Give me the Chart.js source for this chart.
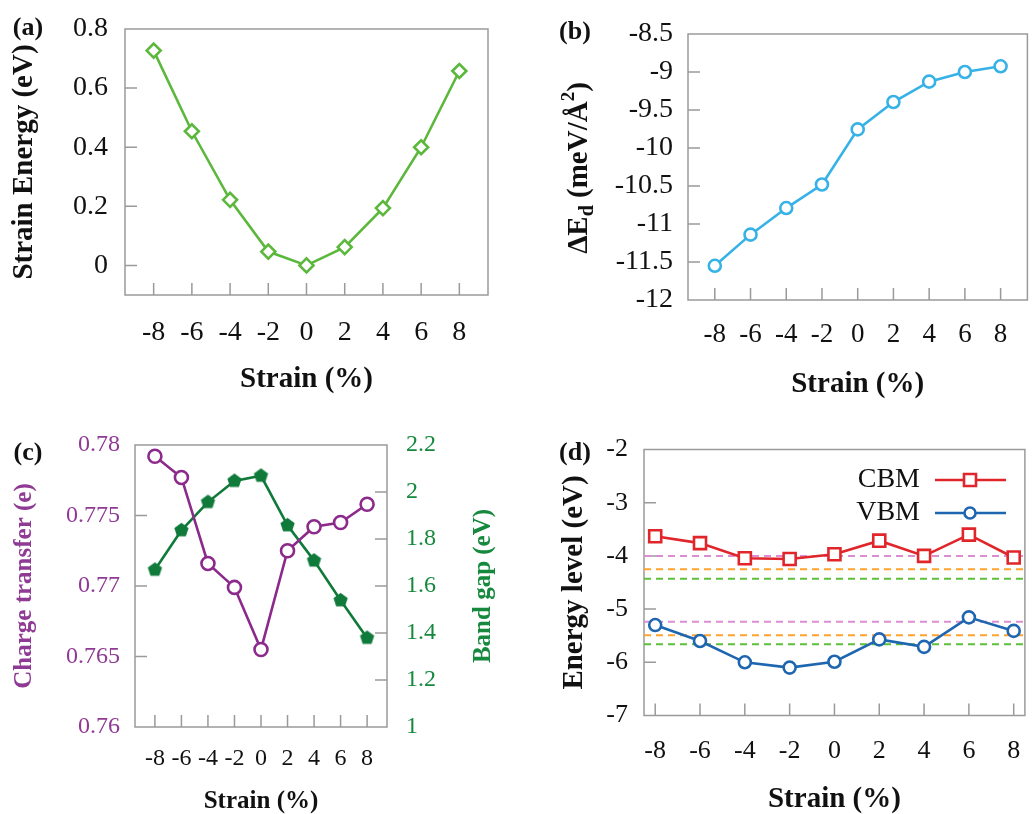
<!DOCTYPE html>
<html>
<head>
<meta charset="utf-8">
<title>Strain panels</title>
<script src="https://cdn.jsdelivr.net/npm/chart.js"></script>
<style>
  html, body { margin: 0; padding: 0; background: #fff; }
  #wrap { position: relative; width: 1036px; height: 814px; overflow: hidden; }
  #wrap canvas { position: absolute; left: 0; top: 0; }
</style>
</head>
<body>
<div id="wrap">
  <canvas id="chartA" width="1036" height="814"></canvas>
  <canvas id="chartB" width="1036" height="814"></canvas>
  <canvas id="chartC" width="1036" height="814"></canvas>
  <canvas id="chartD" width="1036" height="814"></canvas>
</div>
<script>
// ---- data ----
const strain = [-8, -6, -4, -2, 0, 2, 4, 6, 8];

const strainEnergy = [0.727, 0.454, 0.222, 0.047, 0.0, 0.062, 0.194, 0.400, 0.658];
const deltaEd = [-11.55, -11.14, -10.79, -10.48, -9.755, -9.395, -9.127, -9.0, -8.925];
const chargeTransfer = [0.7792, 0.7777, 0.7716, 0.7699, 0.7655, 0.7725, 0.7742, 0.7745, 0.7758];
const bandGap = [1.669, 1.837, 1.957, 2.047, 2.069, 1.858, 1.708, 1.539, 1.379];
const cbm = [-3.63, -3.76, -4.045, -4.058, -3.97, -3.714, -4.0, -3.60, -4.03];
const vbm = [-5.30, -5.60, -6.0, -6.10, -5.99, -5.57, -5.71, -5.155, -5.41];

// dashed reference levels in (d): [upper, lower] for each colour
const refPink = [-4.0, -5.24];
const refOrange = [-4.25, -5.49];
const refGreen = [-4.43, -5.66];

// axis ranges and tick labels
const xRangeWide = [-9.5, 9.5];
const xRangeD = [-8.5, 8.5];
const ticksA = [0, 0.2, 0.4, 0.6, 0.8];
const ticksB = [-12, -11.5, -11, -10.5, -10, -9.5, -9, -8.5];
const ticksCLeft = [0.76, 0.765, 0.77, 0.775, 0.78];
const ticksCRight = [1, 1.2, 1.4, 1.6, 1.8, 2, 2.2];
const ticksD = [-7, -6, -5, -4, -3, -2];

// ---- styling ----
const SERIF = "'Liberation Serif', 'Times New Roman', serif";
const FRAME = '#9a9a9a';
const INK = '#111';
const GREEN_A = '#5cb83c';
const BLUE_B = '#36b2e6';
const PURPLE = '#8c2a8c';
const PURPLE_TXT = '#8f3a94';
const GREEN_C = '#0f7a3a';
const GREEN_TXT = '#17893f';
const RED_D = '#e0262b';
const BLUE_D = '#1f66b0';

const fmt = v => String(+(+v).toFixed(4));
const pts = (ys) => strain.map((x, i) => ({ x: x, y: ys[i] }));

function fixedSize(key, size) {
  return s => {
    s[key] = size;
    s.paddingTop = 0; s.paddingBottom = 0; s.paddingLeft = 0; s.paddingRight = 0;
  };
}
function useTicks(values) {
  return s => { s.ticks = values.map(v => ({ value: v })); };
}

function xAxis(range, o) {
  return {
    type: 'linear', position: 'bottom', min: range[0], max: range[1], bounds: 'data',
    afterBuildTicks: useTicks(strain),
    afterFit: fixedSize('height', o.height),
    grid: { display: false, drawTicks: false }, border: { display: false },
    ticks: { padding: o.pad, color: INK, autoSkip: false, maxRotation: 0, callback: fmt,
      font: { family: SERIF, size: o.size, lineHeight: 1 } },
    title: { display: true, text: 'Strain (%)', color: INK, padding: 0,
      font: { family: SERIF, size: o.tsize, weight: 'bold', lineHeight: 1 } }
  };
}

function yAxis(min, max, tickVals, o) {
  return {
    type: 'linear', position: o.position || 'left', min: min, max: max, bounds: 'data',
    afterBuildTicks: useTicks(tickVals),
    afterFit: fixedSize('width', o.width),
    grid: { display: false, drawTicks: false }, border: { display: false },
    ticks: { padding: o.pad, color: o.color || INK, autoSkip: false, callback: fmt,
      font: { family: SERIF, size: o.size, lineHeight: 1 } },
    title: o.title ? { display: true, text: o.title, color: o.color || INK, padding: 0,
      font: { family: SERIF, size: o.tsize, weight: 'bold', lineHeight: 1 } } : { display: false }
  };
}

function drawRich(ctx, t) {
  ctx.save();
  ctx.translate(t.x, t.y);
  ctx.rotate(t.rot || 0);
  ctx.fillStyle = t.color || INK;
  ctx.textAlign = 'left';
  ctx.textBaseline = 'alphabetic';
  let total = 0;
  const widths = t.parts.map(p => {
    ctx.font = `bold ${p.size}px ${SERIF}`;
    const w = ctx.measureText(p.t).width;
    total += w;
    return w;
  });
  let cx = -total / 2;
  const base = t.parts[0].size * 0.33;
  t.parts.forEach((p, i) => {
    ctx.font = `bold ${p.size}px ${SERIF}`;
    ctx.fillText(p.t, cx, base + (p.dy || 0));
    cx += widths[i];
  });
  ctx.restore();
}

function drawMarker(ctx, kind, x, y, r, color) {
  ctx.beginPath();
  if (kind === 'rect') ctx.rect(x - r, y - r, 2 * r, 2 * r);
  else ctx.arc(x, y, r, 0, Math.PI * 2);
  ctx.fillStyle = '#fff';
  ctx.fill();
  ctx.strokeStyle = color;
  ctx.stroke();
}

// frame, inward tick marks, panel letter, extra titles, legend
function makeExtras(cfg) {
  return {
    id: 'extras',
    beforeDatasetsDraw(chart) {
      const { ctx, chartArea: a } = chart;
      ctx.save();
      ctx.strokeStyle = FRAME;
      ctx.lineWidth = 1.5;
      ctx.strokeRect(a.left, a.top, a.right - a.left, a.bottom - a.top);
      ctx.beginPath();
      Object.values(chart.scales).forEach(s => {
        s.ticks.forEach(t => {
          const p = s.getPixelForValue(t.value);
          if (s.isHorizontal()) {
            if (p <= a.left + 1 || p >= a.right - 1) return;
            ctx.moveTo(p, a.bottom);
            ctx.lineTo(p, a.bottom - 12);
          } else {
            if (p <= a.top + 1 || p >= a.bottom - 1) return;
            const right = s.position === 'right';
            const x0 = right ? a.right : a.left;
            ctx.moveTo(x0, p);
            ctx.lineTo(x0 + (right ? -12 : 12), p);
          }
        });
      });
      ctx.stroke();
      ctx.restore();
    },
    afterDraw(chart) {
      const ctx = chart.ctx;
      ctx.save();
      if (cfg.letter) {
        ctx.font = `bold 26px ${SERIF}`;
        ctx.fillStyle = INK;
        ctx.textAlign = 'center';
        ctx.textBaseline = 'middle';
        ctx.fillText(cfg.letter.text, cfg.letter.x, cfg.letter.y);
      }
      (cfg.titles || []).forEach(t => drawRich(ctx, t));
      (cfg.legend || []).forEach(l => {
        ctx.font = `28px ${SERIF}`;
        ctx.fillStyle = INK;
        ctx.textAlign = 'right';
        ctx.textBaseline = 'middle';
        ctx.fillText(l.text, 920, l.y);
        ctx.strokeStyle = l.color;
        ctx.lineWidth = 2.6;
        ctx.beginPath();
        ctx.moveTo(935, l.y);
        ctx.lineTo(1006, l.y);
        ctx.stroke();
        drawMarker(ctx, l.marker, 970, l.y, l.marker === 'rect' ? 6 : 5.5, l.color);
      });
      ctx.restore();
    }
  };
}

function baseOptions(padding, scales) {
  return {
    responsive: false,
    animation: false,
    devicePixelRatio: 1,
    layout: { padding: padding },
    plugins: { legend: { display: false }, tooltip: { enabled: false } },
    elements: { line: { tension: 0 } },
    scales: scales
  };
}

function lineSet(ys, color, style, radius, extra) {
  return Object.assign({
    data: pts(ys),
    borderColor: color,
    borderWidth: 2.6,
    pointStyle: style,
    pointRadius: radius,
    pointBorderWidth: 2.6,
    pointBorderColor: color,
    pointBackgroundColor: '#fff',
    tension: 0
  }, extra || {});
}

function pentagon(color, r) {
  const s = Math.ceil(2 * r + 2);
  const c = document.createElement('canvas');
  c.width = s; c.height = s;
  const g = c.getContext('2d');
  g.fillStyle = color;
  g.beginPath();
  for (let i = 0; i < 5; i++) {
    const ang = -Math.PI / 2 + i * 2 * Math.PI / 5;
    g.lineTo(s / 2 + r * Math.cos(ang), s / 2 + r * Math.sin(ang));
  }
  g.closePath();
  g.fill();
  return c;
}

// ---- (a) strain energy ----
new Chart(document.getElementById('chartA'), {
  type: 'line',
  data: { datasets: [lineSet(strainEnergy, GREEN_A, 'rectRot', 7)] },
  options: baseOptions({ left: 10.5, top: 29, right: 548, bottom: 419.5 }, {
    x: xAxis(xRangeWide, { height: 99.5, pad: 24, size: 28, tsize: 29 }),
    y: yAxis(-0.1, 0.8, ticksA, { width: 114.5, pad: 17, size: 28, title: 'Strain Energy (eV)', tsize: 29 })
  }),
  plugins: [makeExtras({ letter: { text: '(a)', x: 28, y: 28 } })]
});

// ---- (b) delta E_d ----
new Chart(document.getElementById('chartB'), {
  type: 'line',
  data: { datasets: [lineSet(deltaEd, BLUE_B, 'circle', 6)] },
  options: baseOptions({ left: 540, top: 34, right: 0, bottom: 414.5 }, {
    x: xAxis(xRangeWide, { height: 99.5, pad: 21.5, size: 27, tsize: 29 }),
    y: yAxis(-12, -8.5, ticksB, { width: 148, pad: 15, size: 28 })
  }),
  plugins: [makeExtras({
    letter: { text: '(b)', x: 575, y: 32 },
    titles: [{ x: 577, y: 168, rot: -Math.PI / 2, parts: [
      { t: '\u0394E', size: 29 }, { t: 'd', size: 20, dy: 6 },
      { t: ' (meV/\u00C5', size: 29 }, { t: '2', size: 19, dy: -13 }, { t: ')', size: 29 }
    ] }]
  })]
});

// ---- (c) charge transfer and band gap ----
new Chart(document.getElementById('chartC'), {
  type: 'line',
  data: { datasets: [
    lineSet(chargeTransfer, PURPLE, 'circle', 6.5, { yAxisID: 'y' }),
    lineSet(bandGap, GREEN_C, pentagon(GREEN_C, 7.5), 7.5, { yAxisID: 'y2' })
  ] },
  options: baseOptions({ left: 12.5, top: 445, right: 529, bottom: 0 }, {
    x: xAxis(xRangeWide, { height: 87, pad: 20, size: 24, tsize: 25 }),
    y: yAxis(0.76, 0.78, ticksCLeft, { width: 122.5, pad: 15, size: 24, color: PURPLE_TXT,
      title: 'Charge transfer (e)', tsize: 25 }),
    y2: yAxis(1, 2.2, ticksCRight, { position: 'right', width: 120, pad: 19, size: 24, color: GREEN_TXT })
  }),
  plugins: [makeExtras({
    letter: { text: '(c)', x: 28, y: 453 },
    titles: [{ x: 482, y: 586, rot: -Math.PI / 2, color: GREEN_TXT,
      parts: [{ t: 'Band gap (eV)', size: 25 }] }]
  })]
});

// ---- (d) band edges ----
const refSets = [];
[[refPink, '#dc8ed4'], [refOrange, '#ffa22e'], [refGreen, '#5dbf3a']].forEach(([levels, color]) => {
  levels.forEach(level => {
    refSets.push({
      data: xRangeD.map(x => ({ x: x, y: level })),
      borderColor: color, borderWidth: 2, borderDash: [7, 5],
      pointRadius: 0, order: 5
    });
  });
});

new Chart(document.getElementById('chartD'), {
  type: 'line',
  data: { datasets: [
    lineSet(cbm, RED_D, 'rect', 8.5, { order: 1 }),
    lineSet(vbm, BLUE_D, 'circle', 6, { order: 1 })
  ].concat(refSets) },
  options: baseOptions({ left: 560.2, top: 449.5, right: 0, bottom: 0 }, {
    x: xAxis(xRangeD, { height: 98.5, pad: 22.2, size: 26, tsize: 29 }),
    y: yAxis(-7, -2, ticksD, { width: 83.8, pad: 16, size: 26, title: 'Energy level (eV)', tsize: 29 })
  }),
  plugins: [makeExtras({
    letter: { text: '(d)', x: 575, y: 453 },
    legend: [
      { text: 'CBM', y: 480, color: RED_D, marker: 'rect' },
      { text: 'VBM', y: 513, color: BLUE_D, marker: 'circle' }
    ]
  })]
});
</script>
</body>
</html>
